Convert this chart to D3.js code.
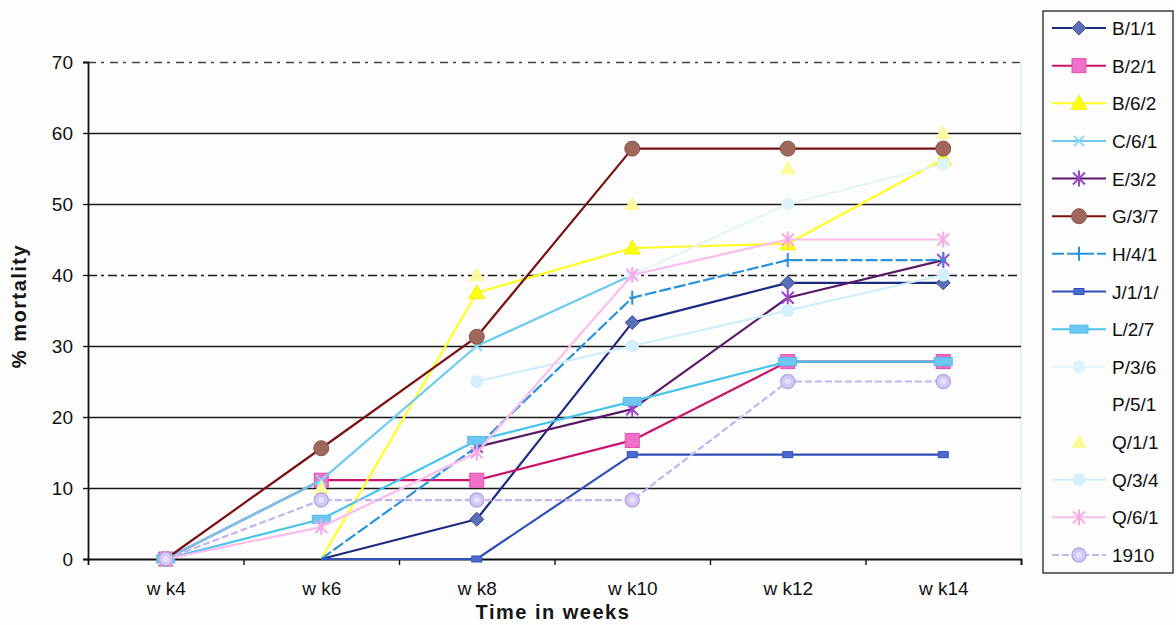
<!DOCTYPE html>
<html>
<head>
<meta charset="utf-8">
<script src="https://cdn.jsdelivr.net/npm/d3@7"></script>
<style>
  html, body { margin: 0; padding: 0; background: #fdfdfd; }
  svg { display: block; font-family: Arial, "Liberation Sans", sans-serif; }
</style>
</head>
<body>
<svg id="chart" width="1176" height="625"></svg>
<script>
// Weekly sampling points and the y ticks
const categories = ["w k4", "w k6", "w k8", "w k10", "w k12", "w k14"];
const yTicks = [0, 10, 20, 30, 40, 50, 60, 70];

// % mortality per line, one value per week (null = not recorded)
const seriesNames = ["B/1/1", "B/2/1", "B/6/2", "C/6/1", "E/3/2", "G/3/7", "H/4/1", "J/1/1/",
                     "L/2/7", "P/3/6", "P/5/1", "Q/1/1", "Q/3/4", "Q/6/1", "1910"];
const b111  = [null, 0, 5.6, 33.3, 38.9, 38.9];
const b221  = [0, 11.1, 11.1, 16.7, 27.8, 27.8];
const b662  = [null, 0, 37.5, 43.8, 44.4, 56.3];
const c661  = [0, 11.1, 30, 40, null, null];
const e332  = [null, null, 15.8, 21.1, 36.8, 42.1];
const g337  = [0, 15.6, 31.3, 57.8, 57.8, 57.8];
const h441  = [null, 0, 15.8, 36.8, 42.1, 42.1];
const j111  = [null, 0, 0, 14.7, 14.7, 14.7];
const l227  = [0, 5.6, 16.7, 22.2, 27.8, 27.8];
const p336  = [null, null, null, 40, 50, 55.6];
const p551  = [null, null, null, null, null, null];
const q111  = [0, 10, 40, 50, 55, 60];
const q334  = [null, null, 25, 30, 35, 40];
const q661  = [0, 4.5, 15, 40, 45, 45];
const s1910 = [0, 8.3, 8.3, 8.3, 25, 25];
const seriesValues = [b111, b221, b662, c661, e332, g337, h441, j111,
                      l227, p336, p551, q111, q334, q661, s1910];

// Drawing style for each line: stroke, marker shape, marker fill/outline, dash.
// bareStart: the first plotted point carries no marker.
const styles = {
  "B/1/1":  { line: "#1c2a80", marker: "diamond",  fill: "#5b6fb8", edge: "#3a4c98", bareStart: true },
  "B/2/1":  { line: "#c8146e", marker: "square",   fill: "#f070c8", edge: "#e050b0" },
  "B/6/2":  { line: "#ffff22", marker: "triangle", fill: "#ffff10", edge: "#f0f000", bareStart: true },
  "C/6/1":  { line: "#6ccaf2", marker: "x",        fill: "none",    edge: "#8ed8f4" },
  "E/3/2":  { line: "#5a1868", marker: "asterisk", fill: "none",    edge: "#9a46c8" },
  "G/3/7":  { line: "#7a1010", marker: "circle",   fill: "#a0685c", edge: "#8a5448" },
  "H/4/1":  { line: "#2a92dc", marker: "plus",     fill: "none",    edge: "#2a92dc", dash: "12,3", bareStart: true },
  "J/1/1/": { line: "#3050b8", marker: "smallbar", fill: "#4a6ad0", edge: "#3050b8", bareStart: true },
  "L/2/7":  { line: "#48c4ec", marker: "bar",      fill: "#6cc8f0", edge: "#50bce8" },
  "P/3/6":  { line: "#e4f4fb", marker: "dot",      fill: "#dff3fc", edge: "none" },
  "P/5/1":  { line: "none",    marker: "none",     fill: "none",    edge: "none" },
  "Q/1/1":  { line: "none",    marker: "triangle", fill: "#fbfb9c", edge: "none" },
  "Q/3/4":  { line: "#cdeefa", marker: "dot",      fill: "#d4f0fc", edge: "none" },
  "Q/6/1":  { line: "#fcbcec", marker: "asterisk", fill: "none",    edge: "#f8a8e8" },
  "1910":   { line: "#c4b4ec", marker: "ring",     fill: "#d4c8f4", edge: "#b8a8e8", dash: "7,3" }
};

const svg = d3.select("#chart");
const plotLeft = 88, plotRight = 1021, plotTop = 62, plotBottom = 559;

const x = d3.scalePoint().domain(categories).range([plotLeft, plotRight]).padding(0.5);
const y = d3.scaleLinear().domain([0, 70]).range([plotBottom, plotTop]);
const xEdges = d3.scaleLinear().domain([0, categories.length]).range([plotLeft, plotRight]);

// faint right-hand frame of the plot area
svg.append("line").attr("x1", plotRight).attr("x2", plotRight).attr("y1", plotTop).attr("y2", plotBottom)
  .attr("stroke", "#e4f2fa").attr("stroke-width", 2);

// horizontal gridlines
const grid = svg.append("g").attr("transform", `translate(${plotLeft},0)`)
  .call(d3.axisLeft(y).tickValues(yTicks.filter(v => v > 0)).tickSize(-(plotRight - plotLeft)).tickFormat(""));
grid.select(".domain").remove();
grid.selectAll(".tick line")
  .attr("stroke", d => d === 70 ? "#3a4450" : "#1a1a1a")
  .attr("stroke-width", d => d === 70 ? 1.3 : 1.6)
  .attr("stroke-dasharray", d => d === 70 ? "8,5,3,6" : d === 40 ? "9,4,3,4" : null);

// y axis
const yAxis = svg.append("g").attr("transform", `translate(${plotLeft},0)`)
  .call(d3.axisLeft(y).tickValues(yTicks).tickSize(5).tickPadding(10));
yAxis.select(".domain").attr("stroke", "#111").attr("stroke-width", 1.8);
yAxis.selectAll(".tick line").attr("stroke", "#111").attr("stroke-width", 1.4);
yAxis.selectAll(".tick text").attr("font-size", 19).attr("fill", "#111")
  .attr("font-family", "Arial, 'Liberation Sans', sans-serif");

// x axis: baseline with ticks between categories
const xAxis = svg.append("g").attr("transform", `translate(0,${plotBottom})`)
  .call(d3.axisBottom(xEdges).tickValues(d3.range(1, categories.length + 1)).tickSize(6).tickFormat(""));
xAxis.select(".domain").attr("stroke", "#111").attr("stroke-width", 1.8);
xAxis.selectAll(".tick line").attr("stroke", "#111").attr("stroke-width", 1.4);

const xLabels = svg.append("g").attr("transform", `translate(0,${plotBottom})`)
  .call(d3.axisBottom(x).tickSize(0).tickPadding(23));
xLabels.select(".domain").remove();
xLabels.selectAll(".tick text").attr("font-size", 19).attr("fill", "#111")
  .attr("font-family", "Arial, 'Liberation Sans', sans-serif");

// axis titles
svg.append("text").attr("x", 553).attr("y", 619).attr("text-anchor", "middle")
  .attr("font-size", 20).attr("font-weight", "bold").attr("letter-spacing", 1.5)
  .attr("fill", "#151515").text("Time in weeks");
svg.append("text").attr("transform", "translate(26,306) rotate(-90)").attr("text-anchor", "middle")
  .attr("font-size", 20).attr("font-weight", "bold").attr("letter-spacing", 1.5)
  .attr("fill", "#151515").text("% mortality");

// marker shapes
function drawMarker(g, st) {
  const t = st.marker;
  if (t === "none") return;
  if (t === "diamond") {
    g.append("path").attr("d", "M0,-7L7,0L0,7L-7,0Z")
      .attr("fill", st.fill).attr("stroke", st.edge).attr("stroke-width", 1);
  } else if (t === "square") {
    g.append("rect").attr("x", -7).attr("y", -7).attr("width", 14).attr("height", 14)
      .attr("fill", st.fill).attr("stroke", st.edge).attr("stroke-width", 1);
  } else if (t === "triangle") {
    g.append("path").attr("d", "M0,-8L8,6L-8,6Z")
      .attr("fill", st.fill).attr("stroke", st.edge === "none" ? null : st.edge);
  } else if (t === "circle") {
    g.append("circle").attr("r", 7.5).attr("fill", st.fill).attr("stroke", st.edge).attr("stroke-width", 1);
  } else if (t === "ring") {
    g.append("circle").attr("r", 7).attr("fill", st.fill).attr("stroke", st.edge).attr("stroke-width", 1.5);
    g.append("circle").attr("r", 3).attr("fill", "#e8e0fa");
  } else if (t === "dot") {
    g.append("circle").attr("r", 6.5).attr("fill", st.fill);
  } else if (t === "bar") {
    g.append("rect").attr("x", -9).attr("y", -4).attr("width", 18).attr("height", 8)
      .attr("fill", st.fill).attr("stroke", st.edge).attr("stroke-width", 1);
  } else if (t === "smallbar") {
    g.append("rect").attr("x", -5).attr("y", -3).attr("width", 10).attr("height", 6)
      .attr("fill", st.fill).attr("stroke", st.edge).attr("stroke-width", 1);
  } else if (t === "x") {
    g.append("path").attr("d", "M-5,-5L5,5M-5,5L5,-5").attr("stroke", st.edge).attr("stroke-width", 2);
  } else if (t === "asterisk") {
    g.append("path").attr("d", "M-6,-6L6,6M-6,6L6,-6M0,-8L0,8").attr("stroke", st.edge).attr("stroke-width", 2);
  } else if (t === "plus") {
    g.append("path").attr("d", "M0,-7L0,7M-3,0L3,0").attr("stroke", st.edge).attr("stroke-width", 2);
  }
}

// series lines and markers, first series drawn underneath
const line = d3.line().defined(d => d.v !== null).x(d => x(d.c)).y(d => y(d.v));
const plot = svg.append("g");
seriesNames.forEach((name, i) => {
  const st = styles[name];
  const pts = categories.map((c, j) => ({ c, v: seriesValues[i][j] }));
  const g = plot.append("g");
  if (st.line !== "none") {
    g.append("path").attr("d", line(pts)).attr("fill", "none")
      .attr("stroke", st.line).attr("stroke-width", 2.2)
      .attr("stroke-dasharray", st.dash || null).attr("stroke-linejoin", "round");
  }
  const shown = pts.filter(p => p.v !== null);
  shown.forEach((p, k) => {
    if (k === 0 && st.bareStart) return;
    drawMarker(g.append("g").attr("transform", `translate(${x(p.c)},${y(p.v)})`), st);
  });
});

// legend
const legend = svg.append("g");
legend.append("rect").attr("x", 1043).attr("y", 11).attr("width", 130).attr("height", 562)
  .attr("fill", "#fdfdfd").attr("stroke", "#222").attr("stroke-width", 1.3);
const ly = d3.scalePoint().domain(seriesNames).range([28, 555]);
seriesNames.forEach(name => {
  const st = styles[name];
  const g = legend.append("g").attr("transform", `translate(0,${ly(name)})`);
  if (st.line !== "none") {
    g.append("line").attr("x1", 1052).attr("x2", 1106).attr("y1", 0).attr("y2", 0)
      .attr("stroke", st.line).attr("stroke-width", 2).attr("stroke-dasharray", st.dash || null);
  }
  drawMarker(g.append("g").attr("transform", "translate(1079,0)"), st);
  g.append("text").attr("x", 1112).attr("y", 7).attr("font-size", 19).attr("fill", "#111").text(name);
});
</script>
</body>
</html>
